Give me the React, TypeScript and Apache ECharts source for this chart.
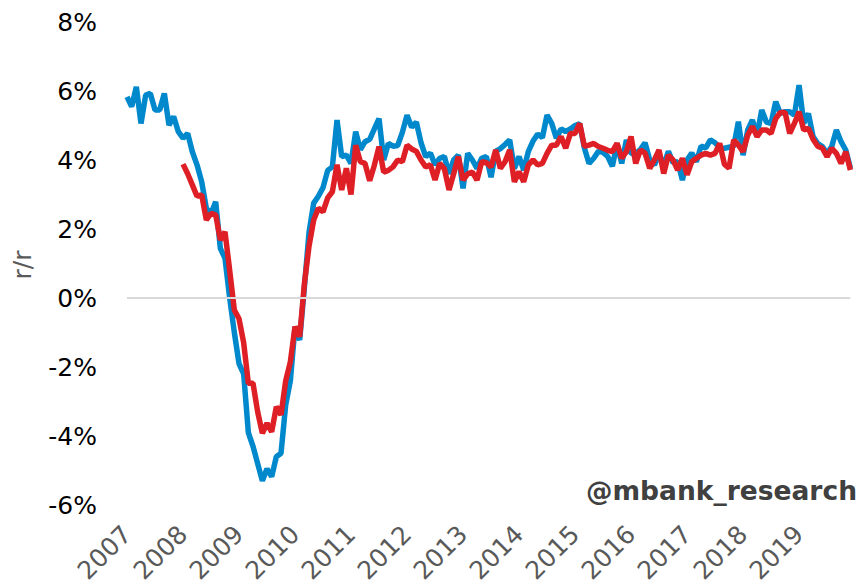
import React, { useEffect, useRef } from "react";
import * as echarts from "echarts";

const startYear = 2007;
const monthCount = 156;

const blueValues = [
  5.83, 5.55, 6.12, 5.06, 5.88, 5.93, 5.45, 5.45, 5.93, 5.01, 5.26, 4.82,
  4.63, 4.77, 4.24, 3.86, 3.37, 2.6, 2.45, 2.79, 1.44, 1.15, 0.0, -1.0,
  -1.9, -2.2, -3.9, -4.3, -4.8, -5.3, -4.95, -5.18, -4.6, -4.5, -3.1, -2.4,
  -0.83, -1.22, 0.3, 1.9, 2.75, 2.95, 3.2, 3.7, 3.8, 5.16, 4.1, 4.14,
  3.9, 4.82, 4.3, 4.53, 4.6, 4.9, 5.2, 4.0, 4.48, 4.4, 4.42, 4.8,
  5.3, 4.95, 5.1, 4.5, 4.1, 4.2, 3.86, 4.05, 4.1, 3.6, 4.0, 4.14,
  3.18, 4.19, 4.0, 3.76, 4.05, 4.1, 3.5, 4.25, 4.33, 4.45, 4.58, 3.75,
  4.1, 3.71, 4.25, 4.55, 4.75, 4.65, 5.3, 5.06, 4.63, 4.9, 4.82, 4.9,
  5.0, 5.05, 4.35, 3.9, 4.05, 4.25, 4.22, 4.1, 3.82, 4.48, 3.9, 4.58,
  4.19, 4.2, 4.3, 4.5, 4.0, 3.86, 4.15, 3.86, 4.25, 3.92, 3.95, 3.42,
  4.0, 4.2, 3.95, 4.4, 4.35, 4.58, 4.5, 4.35, 4.34, 4.37, 4.4, 5.11,
  4.14, 4.87, 5.16, 4.72, 5.45, 5.1, 5.06, 5.69, 5.35, 5.4, 5.4, 5.3,
  6.17, 5.06, 5.35, 4.68, 4.48, 4.39, 4.19, 4.39, 4.87, 4.53, 4.29, 3.76,
];

// red series starts in January 2008
const redStartIndex = 12;
const redValues = [
  3.88, 3.6, 3.28, 2.95, 2.99, 2.26, 2.45, 2.41, 1.68, 1.92, 0.8, -0.35,
  -0.6, -1.3, -2.47, -2.47, -3.3, -3.92, -3.63, -3.88, -3.15, -3.39, -2.4, -1.85,
  -0.83, -1.12, 0.4, 1.5, 2.26, 2.6, 2.5, 2.9, 3.08, 3.86, 3.13, 3.76,
  3.0, 4.43, 3.95, 3.9, 3.4, 3.85, 4.39, 3.65, 3.7, 3.8, 4.0, 3.95,
  4.43, 4.32, 4.25, 4.0, 3.8, 3.86, 3.42, 3.9, 3.75, 3.13, 3.6, 4.1,
  3.42, 3.6, 3.65, 3.42, 3.95, 3.92, 3.8, 4.29, 3.76, 3.95, 4.29, 3.37,
  3.66, 3.37, 3.86, 4.0, 3.86, 3.9, 4.19, 4.43, 4.43, 4.68, 4.34, 4.77,
  4.77, 5.06, 4.4, 4.43, 4.48, 4.39, 4.34, 4.28, 4.24, 4.48, 4.05, 4.24,
  4.68, 3.9, 4.29, 4.2, 3.76, 4.0, 4.29, 3.61, 4.14, 4.0, 3.71, 4.05,
  3.57, 3.95, 4.05, 4.14, 4.19, 4.14, 4.19, 4.48, 3.88, 3.76, 4.58, 4.43,
  4.24, 4.72, 4.97, 4.68, 4.87, 4.87, 4.77, 5.2, 5.38, 5.38, 4.77, 5.06,
  5.4, 4.87, 4.92, 4.6, 4.4, 4.34, 4.1, 4.34, 4.19, 3.9, 4.24, 3.71,
];

const yMin = -6;
const yMax = 8;
const yStep = 2;
const yAxisTitle = "r/r";
const watermark = "@mbank_research";

const months: string[] = [];
for (let i = 0; i < monthCount; i++) {
  const y = startYear + Math.floor(i / 12);
  const m = (i % 12) + 1;
  months.push(`${y}-${m < 10 ? "0" + m : m}`);
}

const redData: (number | null)[] = months.map((_, i) =>
  i < redStartIndex ? null : redValues[i - redStartIndex] ?? null
);

export default function App() {
  const ref = useRef<HTMLDivElement>(null);
  useEffect(() => {
    if (!ref.current) return;
    const chart = echarts.init(ref.current, undefined, { renderer: "svg" });
    const font = "DejaVu Sans, Verdana, sans-serif";
    chart.setOption({
      animation: false,
      backgroundColor: "#ffffff",
      grid: { left: 127, right: 10.6, top: 22, bottom: 83, containLabel: false },
      xAxis: {
        type: "category",
        data: months,
        boundaryGap: false,
        axisLine: { show: false, onZero: false },
        axisTick: { show: false },
        splitLine: { show: false },
        axisLabel: {
          interval: (index: number) => index % 12 === 0,
          formatter: (v: string) => v.slice(0, 4),
          rotate: 45,
          margin: 25,
          color: "#595959",
          fontSize: 25,
          fontFamily: font,
        },
      },
      yAxis: {
        type: "value",
        min: yMin,
        max: yMax,
        interval: yStep,
        axisLine: { show: false },
        axisTick: { show: false },
        splitLine: { show: false },
        axisLabel: {
          formatter: "{value}%",
          color: "#000000",
          fontSize: 25,
          fontFamily: font,
          margin: 30,
        },
      },
      graphic: [
        {
          type: "text",
          x: 22,
          y: 265,
          rotation: Math.PI / 2,
          style: {
            text: yAxisTitle,
            fill: "#595959",
            fontSize: 25,
            fontFamily: font,
            align: "center",
            verticalAlign: "middle",
          },
        },
        {
          type: "text",
          right: 4,
          top: 477,
          style: {
            text: watermark,
            fill: "#404040",
            fontSize: 26.5,
            fontWeight: "bold",
            fontFamily: font,
          },
        },
      ],
      series: [
        {
          type: "line",
          name: "blue",
          data: blueValues,
          showSymbol: false,
          symbol: "none",
          lineStyle: { color: "#0088cc", width: 5.5 },
          itemStyle: { color: "#0088cc" },
          markLine: {
            silent: true,
            symbol: "none",
            label: { show: false },
            lineStyle: { color: "#d9d9d9", width: 2, type: "solid" },
            data: [{ yAxis: 0 }],
          },
          z: 2,
        },
        {
          type: "line",
          name: "red",
          data: redData,
          showSymbol: false,
          symbol: "none",
          lineStyle: { color: "#de1f26", width: 5.5 },
          itemStyle: { color: "#de1f26" },
          z: 3,
        },
      ],
    });
    return () => chart.dispose();
  }, []);
  return (
    <div
      ref={ref}
      style={{ position: "absolute", left: 0, top: 0, width: 861, height: 588 }}
    />
  );
}
